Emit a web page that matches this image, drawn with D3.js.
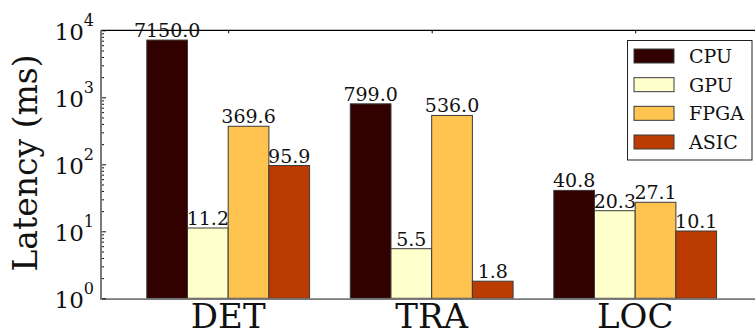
<!DOCTYPE html>
<html>
<head>
<meta charset="utf-8">
<script src="https://cdn.jsdelivr.net/npm/d3@7"></script>
<style>
  html, body { margin: 0; padding: 0; background: #fff; }
  svg { display: block; font-family: "DejaVu Serif", serif; }
</style>
</head>
<body>
<svg id="chart" width="755" height="329"></svg>
<script>
// Latency per workload stage on each platform (ms)
const categories = ["DET", "TRA", "LOC"];
const seriesNames = ["CPU", "GPU", "FPGA", "ASIC"];
const cpuLatency  = [7150.0, 799.0, 40.8];
const gpuLatency  = [11.2, 5.5, 20.3];
const fpgaLatency = [369.6, 536.0, 27.1];
const asicLatency = [95.9, 1.8, 10.1];
const seriesColors = ["#330000", "#ffffcc", "#fec44f", "#bb3b00"];
const yTickExponents = [0, 1, 2, 3, 4];

const series = [cpuLatency, gpuLatency, fpgaLatency, asicLatency];
const barWidth = 0.2;

const svg = d3.select("#chart");
const W = 755, H = 329;
const plotLeft = 101, plotTop = 30.3, plotBottom = 298.3;

const x = d3.scaleLinear().domain([-0.625, 2.625]).range([plotLeft, plotLeft + 3.25 * 203.5]);
const y = d3.scaleLog().domain([1, 1e4]).range([plotBottom, plotTop]);

// Bars
const bars = svg.append("g");
series.forEach((vals, s) => {
  bars.selectAll(null)
    .data(vals)
    .enter()
    .append("rect")
    .attr("x", (d, i) => x(i + (s - 2) * barWidth))
    .attr("width", x(barWidth) - x(0))
    .attr("y", d => y(d))
    .attr("height", d => y(1) - y(d))
    .attr("fill", seriesColors[s])
    .attr("stroke", "#3a3a3a")
    .attr("stroke-width", 1);
});

// Value labels above bars
const fmt = d3.format(".1f");
series.forEach((vals, s) => {
  svg.append("g").selectAll(null)
    .data(vals)
    .enter()
    .append("text")
    .attr("x", (d, i) => x(i + (s - 2) * barWidth + barWidth / 2))
    .attr("y", d => y(d) - 3)
    .attr("text-anchor", "middle")
    .attr("font-size", 19)
    .attr("fill", "#111")
    .text(d => fmt(d));
});

// Spines
svg.append("line").attr("x1", plotLeft).attr("x2", W).attr("y1", plotTop).attr("y2", plotTop)
  .attr("stroke", "#000").attr("stroke-width", 1.2);
svg.append("line").attr("x1", plotLeft).attr("x2", W).attr("y1", plotBottom + 0.8).attr("y2", plotBottom + 0.8)
  .attr("stroke", "#7a7a7a").attr("stroke-width", 1.6);
svg.append("line").attr("x1", plotLeft).attr("x2", plotLeft).attr("y1", plotTop).attr("y2", plotBottom + 1.5)
  .attr("stroke", "#7a7a7a").attr("stroke-width", 2);

// Inward ticks on the y axis (major and minor)
const majorVals = yTickExponents.map(e => Math.pow(10, e));
const minorVals = [];
yTickExponents.slice(0, -1).forEach(e => {
  for (let k = 2; k <= 9; k++) minorVals.push(k * Math.pow(10, e));
});
const yMajor = svg.append("g").attr("transform", `translate(${plotLeft + 1},0)`)
  .call(d3.axisRight(y).tickValues(majorVals).tickSize(4).tickFormat(""));
const yMinor = svg.append("g").attr("transform", `translate(${plotLeft + 1},0)`)
  .call(d3.axisRight(y).tickValues(minorVals).tickSize(2).tickFormat(""));
[yMajor, yMinor].forEach(g => {
  g.select(".domain").remove();
  g.selectAll(".tick line").attr("stroke", "#111").attr("stroke-width", 1);
});

// Category ticks hanging from the top spine
const xTop = svg.append("g").attr("transform", `translate(0,${plotTop})`)
  .call(d3.axisBottom(x).tickValues(d3.range(categories.length)).tickSize(3).tickFormat(""));
xTop.select(".domain").remove();
xTop.selectAll(".tick line").attr("stroke", "#000").attr("stroke-width", 1);

// Y tick labels as powers of ten
const yLabels = svg.append("g");
yTickExponents.forEach(e => {
  const t = yLabels.append("text")
    .attr("x", 94)
    .attr("y", y(Math.pow(10, e)) + 9.5)
    .attr("text-anchor", "end")
    .attr("font-size", 23)
    .attr("fill", "#111");
  t.append("tspan").text("10");
  t.append("tspan").attr("font-size", 16).attr("dy", -13.5).text(String(e));
});

// Category labels
svg.append("g").selectAll(null)
  .data(categories)
  .enter()
  .append("text")
  .attr("x", (d, i) => x(i))
  .attr("y", 327.5)
  .attr("text-anchor", "middle")
  .attr("font-size", 34)
  .attr("fill", "#111")
  .text(d => d);

// Y axis title
svg.append("text")
  .attr("transform", "translate(37,163) rotate(-90)")
  .attr("text-anchor", "middle")
  .attr("font-size", 33)
  .attr("fill", "#111")
  .text("Latency (ms)");

// Legend
const legend = svg.append("g");
legend.append("rect")
  .attr("x", 627.5).attr("y", 40.5).attr("width", 124.5).attr("height", 119.5)
  .attr("fill", "#fff").attr("stroke", "#222").attr("stroke-width", 1);
const rowY = d3.scaleLinear().domain([0, 3]).range([56, 142]);
seriesNames.forEach((name, s) => {
  legend.append("rect")
    .attr("x", 634).attr("y", rowY(s) - 7)
    .attr("width", 40).attr("height", 14)
    .attr("fill", seriesColors[s])
    .attr("stroke", "#3a3a3a").attr("stroke-width", 1);
  legend.append("text")
    .attr("x", 689).attr("y", rowY(s) + 7)
    .attr("font-size", 19)
    .attr("fill", "#111")
    .text(name);
});
</script>
</body>
</html>
